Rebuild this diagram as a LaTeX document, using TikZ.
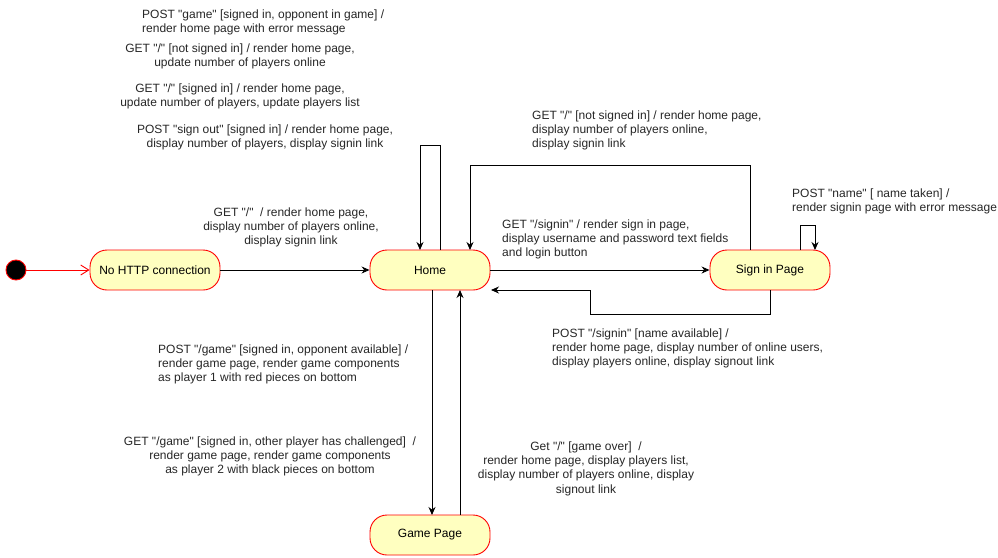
\documentclass[tikz,border=0pt]{standalone}
\usepackage{fontspec}
\setmainfont{Liberation Sans}[Ligatures=TeXOff]
\usetikzlibrary{arrows.meta}
\begin{document}
\begin{tikzpicture}[x=1pt,y=-1pt,
  state/.style={draw=red, fill=yellowfill, rounded corners=17pt, minimum width=120pt, minimum height=40pt, line width=0.9pt, inner sep=0pt, font=\fontsize{12}{14.5}\selectfont},
  lbl/.style={inner sep=0pt, font=\fontsize{12}{14.3}\selectfont, text=black!85, yshift=-1.5pt},
  lblc/.style={lbl, align=center},
  lbll/.style={lbl, align=left, anchor=west},
  tr/.style={draw=black, line width=0.9pt, -{Stealth[length=8pt,width=7pt]}},
]
\definecolor{yellowfill}{HTML}{FFFFC0}
\useasboundingbox (0,0) rectangle (998,557);
% states
\node[circle, draw=red, fill=black, minimum size=20pt, inner sep=0pt, line width=0.9pt] (init) at (16,270) {};
\node[state, minimum width=130pt] (nohttp) at (155,270) {No HTTP connection};
\node[state] (home) at (430,270) {Home};
\node[state] (signin) at (770,270) {Sign in Page};
\node[state] (game) at (430,535) {Game Page};
% coordinates
\coordinate (hl1) at (440,250);
\coordinate (hl2) at (420,250);
\coordinate (st) at (750,250);
\coordinate (ht) at (470,250);
\coordinate (sb) at (770,290);
\coordinate (hbr) at (491,290);
\coordinate (sl1) at (800,250);
\coordinate (sl2) at (815,250);
\coordinate (hb1) at (432,290);
\coordinate (gt1) at (432,515);
\coordinate (hb2) at (460,290);
\coordinate (gt2) at (460,515);
% transitions
\draw[red, line width=0.9pt, -{Straight Barb[length=8pt,width=10pt]}] (init) -- (nohttp);
\draw[tr] (nohttp) -- (home);
\draw[tr] (hl1) -- (440,145) -- (420,145) -- (hl2);
\draw[tr] (st) -- (750,165) -- (470,165) -- (ht);
\draw[tr] (home) -- (signin);
\draw[tr] (sb) -- (770,314) -- (590,314) -- (590,290) -- (hbr);
\draw[tr] (sl1) -- (800,225) -- (815,225) -- (sl2);
\draw[tr] (hb1) -- (gt1);
\draw[tr] (gt2) -- (hb2);
% labels
\node[lbll] (l1) at (142,21) {POST "game" [signed in, opponent in game] /\\render home page with error message};
\node[lblc] (l2) at (240,55) {GET "/" [not signed in] / render home page,\\update number of players online};
\node[lblc] (l3) at (240,95) {GET "/" [signed in] / render home page,\\update number of players, update players list};
\node[lblc] (l4) at (265,136) {POST "sign out" [signed in] / render home page,\\display number of players, display signin link};
\node[lblc] (l5) at (291,226) {GET "/"\ \ / render home page,\\display number of players online,\\display signin link};
\node[lbll] (l6) at (532,129) {GET "/" [not signed in] / render home page,\\display number of players online,\\display signin link};
\node[lbll] (l7) at (502,238) {GET "/signin" / render sign in page,\\display username and password text fields\\and login button};
\node[lbll] (l8) at (792,200) {POST "name" [ name taken] /\\render signin page with error message};
\node[lbll] (l9) at (552,347) {POST "/signin" [name available] /\\render home page, display number of online users,\\display players online, display signout link};
\node[lbll] (l10) at (158,363) {POST "/game" [signed in, opponent available] /\\render game page, render game components\\as player 1 with red pieces on bottom};
\node[lblc] (l11) at (270,455) {GET "/game" [signed in, other player has challenged]\ \ /\\render game page, render game components\\as player 2 with black pieces on bottom};
\node[lblc] (l12) at (586,467) {Get "/" [game over]\ \ /\\render home page, display players list,\\display number of players online, display\\signout link};
\end{tikzpicture}
\end{document}
